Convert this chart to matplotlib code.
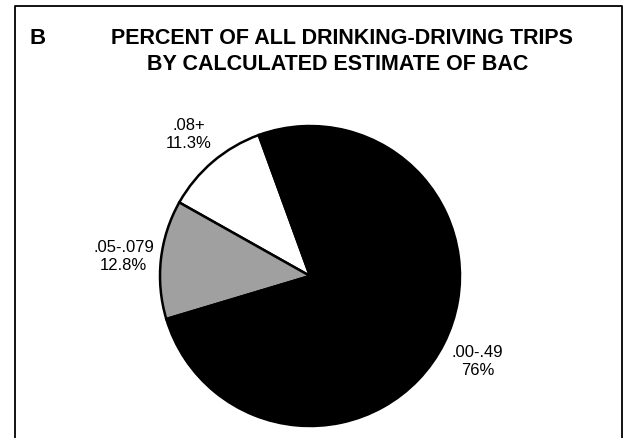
import matplotlib.pyplot as plt
from matplotlib.lines import Line2D

# Data
categories = ['.08+', '.05-.079', '.00-.49']
percents = [11.3, 12.8, 76.0]
pct_labels = ['11.3%', '12.8%', '76%']
colors = ['white', '#a0a0a0', 'black']

W, H = 630, 439
plt.rcParams['font.family'] = ['Liberation Sans', 'DejaVu Sans']

fig = plt.figure(figsize=(W / 100, H / 100), dpi=100)
fig.patch.set_facecolor('white')


def px(x, y):
  """pixel coords (top-left origin) -> figure fraction"""
  return x / W, 1 - y / H


# Frame around panel (bottom edge runs off the picture)
xs = [15, 15, 622, 622]
ys = [H + 5, 7, 7, H + 5]
fig.add_artist(Line2D([x / W for x in xs], [1 - y / H for y in ys],
                      transform=fig.transFigure, color='black', lw=1.3))

# Panel letter and title
fig.text(*px(38, 38), 'B', ha='center', va='center', fontsize=16, fontweight='bold')
fig.text(*px(342, 38), 'PERCENT OF ALL DRINKING-DRIVING TRIPS',
         ha='center', va='center', fontsize=15.5, fontweight='bold')
fig.text(*px(338, 65), 'BY CALCULATED ESTIMATE OF BAC',
         ha='center', va='center', fontsize=15.5, fontweight='bold')

# Pie
cx, cy, r = 310, 277, 150
ax = fig.add_axes([(cx - r) / W, 1 - (cy + r) / H, 2 * r / W, 2 * r / H])
labels = [f'{c}\n{p}' for c, p in zip(categories, pct_labels)]
wedges, texts = ax.pie(percents, labels=labels, colors=colors, startangle=110,
                       counterclock=True, labeldistance=1.25,
                       wedgeprops=dict(edgecolor='black', linewidth=1.8),
                       textprops=dict(fontsize=12, linespacing=1.25))
for t in texts:
  t.set_ha('center')
  t.set_va('center')
  t.set_clip_on(False)
ax.set_xlim(-1, 1)
ax.set_ylim(-1, 1)
ax.set_aspect('equal')
ax.axis('off')

fig.savefig('out.png', dpi=100)
